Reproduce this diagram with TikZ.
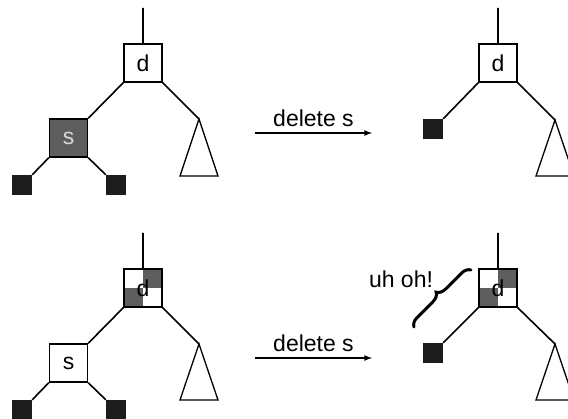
\documentclass[tikz,border=0pt]{standalone}
\usepackage{fontspec}
\setmainfont{Liberation Sans}
\usetikzlibrary{decorations.pathreplacing}

\definecolor{midgray}{HTML}{5E5E5E}
\definecolor{leafblack}{HTML}{1C1C1C}

\tikzset{
  every node/.style={font=\fontsize{23}{27}\selectfont},
  keybox/.style={draw,line width=1.3pt,minimum size=38pt,inner sep=0pt,fill=white},
  delbox/.style={keybox,fill=midgray,text=black!15},
  splitbox/.style={keybox,path picture={
      \fill[midgray] (path picture bounding box.center) rectangle (path picture bounding box.north east);
      \fill[midgray] (path picture bounding box.center) rectangle (path picture bounding box.south west);}},
  leaf/.style={fill=leafblack,minimum size=20pt,inner sep=0pt},
  edge/.style={line width=1.6pt},
  subtree/.style={line width=1.3pt},
}

\begin{document}
\begin{tikzpicture}[x=1pt,y=1pt]
\useasboundingbox (0,0) rectangle (568,418);

% before, top
\coordinate (tA) at (143,410);
\node[keybox] (dA) at (143,355) {d};
\node[delbox] (sA) at (68.5,280) {s};
\node[leaf] (lA1) at (22,233) {};
\node[leaf] (lA2) at (116,233) {};
\coordinate (rA) at (199,299);
\draw[subtree] (rA) -- (180,242) -- (218,242) -- cycle;
\draw[edge] (tA) -- (dA)
  (dA.south west) -- (sA.north east)
  (dA.south east) -- (rA)
  (sA.south west) -- (lA1.north east)
  (sA.south east) -- (lA2.north west);

% after, top
\coordinate (tB) at (498,410);
\node[keybox] (dB) at (498,355) {d};
\node[leaf] (lB) at (433,289) {};
\coordinate (rB) at (555,298);
\draw[subtree] (rB) -- (536,242) -- (574,242) -- cycle;
\draw[edge] (tB) -- (dB)
  (dB.south west) -- (lB.north east)
  (dB.south east) -- (rB);

% before, bottom
\coordinate (tC) at (143,185);
\node[splitbox] (dC) at (143,130) {d};
\node[keybox] (sC) at (68.5,55) {s};
\node[leaf] (lC1) at (22,8) {};
\node[leaf] (lC2) at (116,8) {};
\coordinate (rC) at (199,74);
\draw[subtree] (rC) -- (180,18) -- (218,18) -- cycle;
\draw[edge] (tC) -- (dC.north)
  (dC.south west) -- (sC.north east)
  (dC.south east) -- (rC)
  (sC.south west) -- (lC1.north east)
  (sC.south east) -- (lC2.north west);

% after, bottom
\coordinate (tD) at (498,185);
\node[splitbox] (dD) at (498,130) {d};
\node[leaf] (lD) at (433,65) {};
\coordinate (rD) at (555,74);
\draw[subtree] (rD) -- (536,18) -- (574,18) -- cycle;
\draw[edge] (tD) -- (dD.north)
  (dD.south west) -- (lD.north east)
  (dD.south east) -- (rD);

\node (uh) at (401,139) {uh oh!};
\coordinate (b1) at (414,91);
\coordinate (b2) at (471,148);
\draw[line width=3pt,line cap=round,decorate,decoration={brace,amplitude=9pt}] (b1) -- (b2);

% the two steps
\coordinate (a1) at (255,285);
\coordinate (a2) at (372,285);
\draw[edge,-latex] (a1) -- node[above=2pt] (stepA) {delete s} (a2);
\coordinate (a3) at (255,60);
\coordinate (a4) at (372,60);
\draw[edge,-latex] (a3) -- node[above=2pt] (stepB) {delete s} (a4);
\end{tikzpicture}
\end{document}
